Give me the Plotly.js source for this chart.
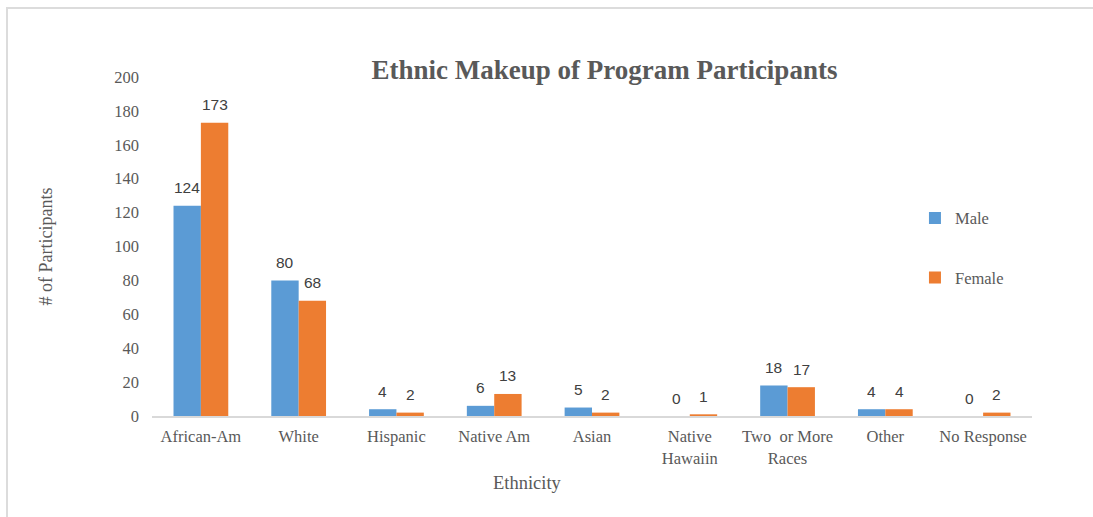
<!DOCTYPE html>
<html>
<head>
<meta charset="utf-8">
<script src="https://cdn.plot.ly/plotly-3.0.1.min.js"></script>
<style>
  html, body { margin: 0; padding: 0; background: #fff; }
  #wrap { position: absolute; left: 0; top: 0; width: 1093px; height: 517px; overflow: hidden; }
  #frame { position: absolute; left: 6px; top: 7px; width: 1100px; height: 520px; border-top: 2px solid #dcdcdc; border-left: 2px solid #dcdcdc; pointer-events: none; }
  #chart { position: absolute; left: 0; top: 0; width: 1093px; height: 517px; }
</style>
</head>
<body>
<div id="wrap">
  <div id="chart"></div>
  <div id="frame"></div>
</div>
<script>
const categories = ["African-Am", "White", "Hispanic", "Native Am", "Asian", "Native<br>Hawaiin", "Two  or More<br>Races", "Other", "No Response"];
const maleValues = [124, 80, 4, 6, 5, 0, 18, 4, 0];
const femaleValues = [173, 68, 2, 13, 2, 1, 17, 4, 2];
const seriesNames = ["Male", "Female"];
const yTicks = [0, 20, 40, 60, 80, 100, 120, 140, 160, 180, 200];

const serif = "Liberation Serif, Times New Roman, serif";
const sans = "Liberation Sans, Arial, sans-serif";
const gray = "#595959";

const BARGAP = 0.44;
const halfBar = (1 - BARGAP) / 4;

const traces = [
  {
    type: "bar", name: seriesNames[0], x: categories, y: maleValues,
    marker: { color: "#5B9BD5" }, legendgroup: "m", hoverinfo: "skip"
  },
  {
    type: "bar", name: seriesNames[1], x: categories, y: femaleValues,
    marker: { color: "#ED7D31" }, legendgroup: "f", hoverinfo: "skip"
  }
];

const labelFont = { family: sans, size: 15.5, color: "#404040" };
const dataLabels = [];
[maleValues, femaleValues].forEach((vals, s) => {
  vals.forEach((v, i) => {
    dataLabels.push({
      x: i + (s === 0 ? -halfBar : halfBar), y: v, xref: "x", yref: "y",
      text: String(v), showarrow: false, xanchor: "center", yanchor: "middle",
      yshift: 18, font: labelFont
    });
  });
});

const layout = {
  width: 1093, height: 517,
  margin: { l: 152, r: 61, t: 77, b: 101 },
  paper_bgcolor: "#ffffff", plot_bgcolor: "#ffffff",
  barmode: "group", bargap: BARGAP, bargroupgap: 0,
  title: {
    text: "<b>Ethnic Makeup of Program Participants</b>",
    font: { family: serif, size: 27, color: gray },
    x: 0.553, xref: "container", xanchor: "center",
    y: 1 - 70 / 517, yref: "container", yanchor: "middle"
  },
  xaxis: {
    showline: true, linecolor: "#d9d9d9", linewidth: 1.5,
    showgrid: false, zeroline: false, ticks: "",
    tickfont: { family: serif, size: 16.5, color: gray },
    ticklabelstandoff: 5, fixedrange: true
  },
  yaxis: {
    range: [0, 200], tickvals: yTicks, ticktext: yTicks.map(String),
    showline: false, showgrid: false, zeroline: false, ticks: "",
    tickfont: { family: serif, size: 16.5, color: gray },
    ticklabelstandoff: 12, fixedrange: true
  },
  showlegend: true,
  legend: {
    x: 0.867, y: 0.635, xanchor: "left", yanchor: "top",
    font: { family: serif, size: 16.5, color: gray },
    tracegroupgap: 35, traceorder: "grouped",
    bgcolor: "rgba(0,0,0,0)", itemwidth: 30
  },
  annotations: dataLabels.concat([
    {
      text: "# of Participants", xref: "paper", yref: "paper",
      x: (45 - 152) / 880, y: 0.5, xanchor: "center", yanchor: "middle",
      textangle: -90, showarrow: false,
      font: { family: serif, size: 18, color: gray }
    },
    {
      text: "Ethnicity", xref: "paper", yref: "paper",
      x: (527 - 152) / 880, y: -(483 - 416) / 339, xanchor: "center", yanchor: "middle",
      showarrow: false,
      font: { family: serif, size: 18.5, color: gray }
    }
  ])
};

Plotly.newPlot("chart", traces, layout, { displayModeBar: false, staticPlot: true });
</script>
</body>
</html>
